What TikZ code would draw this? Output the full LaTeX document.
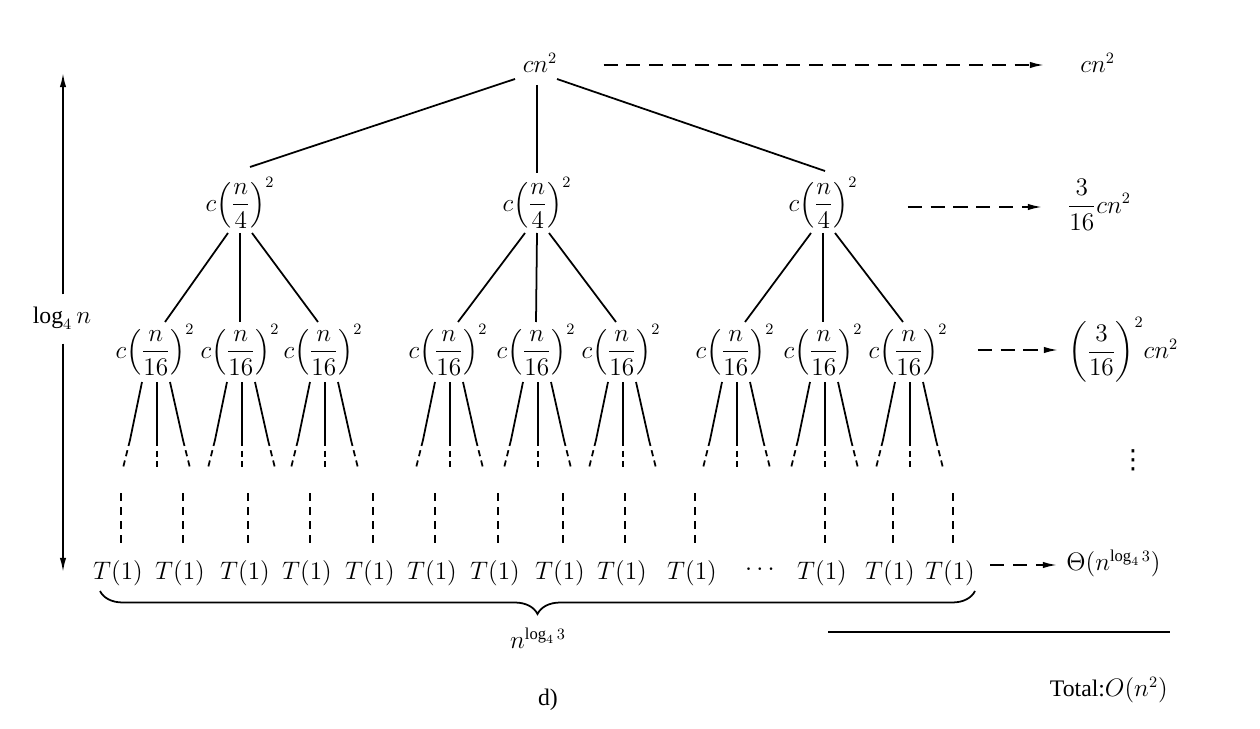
\documentclass[tikz,border=0pt]{standalone}
\usepackage{amsmath}
\usepackage{fontspec}
\setmainfont{Liberation Serif}
\newfontfamily\dejavu{DejaVu Sans}
\usetikzlibrary{arrows.meta,decorations.pathreplacing,calc}
\begin{document}
\begin{tikzpicture}[x=0.02cm,y=-0.02cm,
  every node/.style={inner sep=0pt, font=\fontsize{13.5}{16}\selectfont},
  edge/.style={line width=1pt},
  dedge/.style={line width=1pt, dash pattern=on 4.5pt off 3.5pt},
  bedge/.style={line width=1pt, dash pattern=on 3.5pt off 2.5pt},
  sumarrow/.style={line width=1pt, dash pattern=on 8pt off 5pt, -{Latex[length=8pt,width=3.6pt]}},
  sidearrow/.style={line width=1pt, -{Latex[length=8pt,width=3.6pt]}}]
\useasboundingbox (0,0) rectangle (1260,729);

% tree nodes
\node (r) at (540,63) {$cn^2$};
\node (a1) at (240,203) {$c{\left(\dfrac{n}{4}\right)}^{2}$};
\node (a2) at (537,203) {$c{\left(\dfrac{n}{4}\right)}^{2}$};
\node (a3) at (823,203) {$c{\left(\dfrac{n}{4}\right)}^{2}$};
\foreach \n/\x in {b11/155,b12/240,b13/323,b21/448,b22/536,b23/621,b31/735,b32/823,b33/908}
  \node (\n) at (\x,350) {$c{\left(\dfrac{n}{16}\right)}^{2}$};

% root edges
\draw[edge] ($(r)+(-25,16)$) -- ($(a1)+(10,-36)$);
\draw[edge] ($(r)+(-3,22)$) -- ($(a2)+(0,-30)$);
\draw[edge] ($(r)+(17,16)$) -- ($(a3)+(2,-32)$);

% level 1 -> level 2
\foreach \p/\c in {a1/1,a2/2,a3/3} {
  \draw[edge] ($(\p)+(-12,30)$) -- ($(b\c1)+(10,-28)$);
  \draw[edge] ($(\p)+(0,30)$) -- ($(b\c2)+(0,-28)$);
  \draw[edge] ($(\p)+(12,30)$) -- ($(b\c3)+(-5,-28)$);
}

% level 2 -> further levels
\foreach \b in {b11,b12,b13,b21,b22,b23,b31,b32,b33} {
  \draw[edge] ($(\b)+(-13,32)$) -- ($(\b)+(-25,90)$);
  \draw[bedge] ($(\b)+(-25,90)$) -- ($(\b)+(-32,118)$);
  \draw[edge] ($(\b)+(2,32)$) -- ($(\b)+(2,90)$);
  \draw[bedge] ($(\b)+(2,90)$) -- ($(\b)+(2,118)$);
  \draw[edge] ($(\b)+(15,32)$) -- ($(\b)+(28,90)$);
  \draw[bedge] ($(\b)+(28,90)$) -- ($(\b)+(35,118)$);
}

% leaves
\foreach \i/\x in {1/118,2/180,3/245,4/307,5/370,6/432,7/495,8/560,9/622,10/692,11/822,12/890,13/950} {
  \node (t\i) at (\x,573) {$T(1)$};
  \draw[dedge] ($(t\i)+(3,-80)$) -- ($(t\i)+(3,-26)$);
}
\node (tdots) at (762,570) {$\cdots$};

% brace
\coordinate (bl) at (100,591);
\coordinate (br) at (975,591);
\draw[edge, decorate, decoration={brace, mirror, amplitude=4.6mm}] (bl) -- (br);
\node (nl) at (538,638) {$n^{\log_4 3}$};
\node (d) at (548,700) {d)};

% left height arrow
\coordinate (lt) at (63,73);
\coordinate (lb) at (63,572);
\node (lg) at (62,318) {$\log_4 n$};
\draw[sidearrow] ($(lg.north)+(1,-12)$) -- (lt);
\draw[sidearrow] ($(lg.south)+(1,14)$) -- (lb);

% right column
\node[anchor=west] (s0) at (1080,63) {$cn^2$};
\node[anchor=west] (s1) at (1067,205) {$\dfrac{3}{16}cn^2$};
\node[anchor=west] (s2) at (1068,350) {${\left(\dfrac{3}{16}\right)}^{2}cn^2$};
\node (vd) at (1133,460) {\fontsize{15}{17}\selectfont\dejavu ⋮};
\node[anchor=west] (s4) at (1066,563) {$\Theta(n^{\log_4 3})$};
\node[anchor=east] (tot) at (1168,690) {Total:$O(n^2)$};

\draw[sumarrow] ($(r.east)+(46,2)$) -- ($(s0.west)+(-36,2)$);
\draw[sumarrow] ($(a3.east)+(50,4)$) -- ($(s1.west)+(-25,2)$);
\draw[sumarrow] ($(b33.east)+(30,0)$) -- ($(s2.west)+(-10,0)$);
\draw[sumarrow] ($(t13.east)+(15,-8)$) -- ($(s4.west)+(-9,2)$);

\coordinate (h1) at (828,632);
\coordinate (h2) at (1170,632);
\draw[edge] (h1) -- (h2);
\end{tikzpicture}
\end{document}
